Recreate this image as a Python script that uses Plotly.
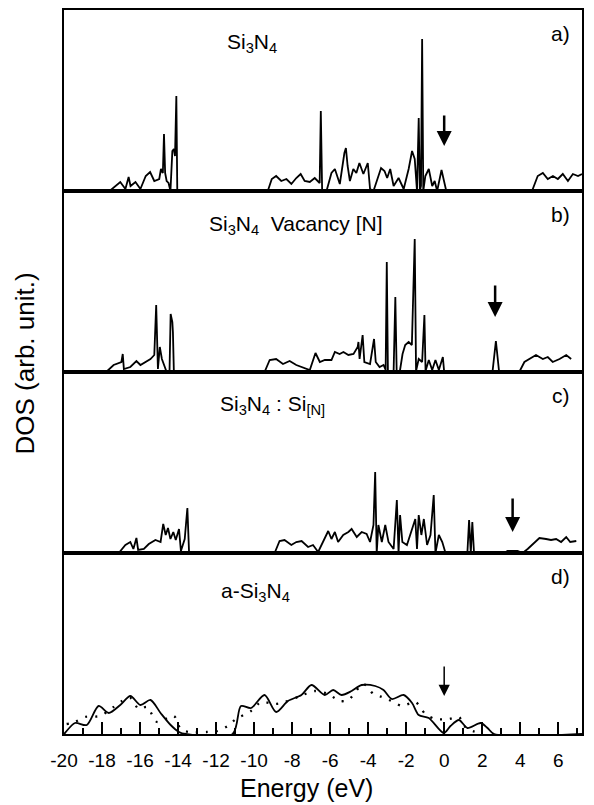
import plotly.graph_objects as go
from plotly.subplots import make_subplots

# ---------------- data (energy in eV, DOS in arbitrary units) ----------------
a_energy = [-20, -17.6, -17.04, -16.77, -16.6, -16.5, -16.24, -15.98, -15.7, -15.47,
            -15.25, -14.99, -14.9, -14.8, -14.74, -14.68, -14.6, -14.5, -14.4, -14.3,
            -14.22, -14.16, -14.09, -14.04, -9.28, -9.07, -8.84, -8.57, -8.3, -8.04,
            -7.78, -7.55, -7.34, -7.07, -6.81, -6.63, -6.55, -6.49, -6.42, -6.19,
            -5.93, -5.75, -5.49, -5.25, -5.17, -5.08, -4.96, -4.78, -4.62, -4.46,
            -4.25, -4.02, -3.90, -3.72, -3.54, -3.32, -3.14, -3.0, -2.84, -2.66,
            -2.40, -2.13, -1.87, -1.69, -1.55, -1.43, -1.34, -1.28, -1.22, -1.16,
            -1.10, -0.99, -0.81, -0.63, -0.5, -0.37, -0.14, 0.11, 4.62, 4.92,
            5.19, 5.45, 5.72, 5.98, 6.24, 6.51, 6.77, 7.04, 7.25]
a_dos = [0, 0, 9, 2, 14, 5, 9, 2, 15, 19,
         10, 12, 22, 18, 57, 18, 10, 8, 0, 40,
         42, 35, 95, 0, 0, 12, 15, 10, 12, 7,
         13, 17, 10, 9, 13, 10, 8, 80, 0, 0,
         18, 22, 7, 38, 43, 25, 10, 22, 18, 28,
         17, 28, 2, 0, 10, 23, 20, 13, 22, 5,
         13, 2, 22, 40, 32, 0, 73, 0, 5, 152,
         0, 15, 22, 5, 10, 0, 21, 0, 0, 15,
         18, 12, 15, 12, 17, 10, 17, 15, 17]

b_energy = [-20, -17.78, -17.39, -16.98, -16.91, -16.85, -16.51, -16.19, -15.98, -15.71,
            -15.45, -15.25, -15.15, -15.06, -14.96, -14.85, -14.6, -14.45, -14.39, -14.3,
            -14.27, -14.22, -9.45, -9.18, -8.84, -8.48, -8.13, -7.78, -7.07, -6.77,
            -6.54, -6.28, -5.93, -5.75, -5.5, -5.3, -5.04, -4.77, -4.55, -4.51,
            -4.45, -4.29, -4.2, -3.90, -3.69, -3.6, -3.4, -3.19, -3.08, -3.02,
            -2.96, -2.66, -2.57, -2.5, -2.33, -2.19, -2.05, -1.87, -1.7, -1.55,
            -1.48, -1.34, -1.16, -1.04, -0.98, -0.81, -0.63, -0.46, -0.28, -0.07,
            0.0, 2.54, 2.72, 2.89, 3.95, 4.22, 4.48, 4.83, 5.19, 5.45,
            5.71, 6.07, 6.42, 6.68]
b_dos = [0, 0, 7, 10, 18, 3, 5, 11, 7, 10,
         13, 17, 67, 3, 25, 13, 0, 0, 58, 50,
         40, 0, 0, 12, 13, 8, 11, 7, 2, 19,
         10, 12, 12, 20, 18, 20, 17, 18, 25, 30,
         13, 37, 10, 8, 33, 10, 5, 7, 2, 110,
         1, 1, 75, 1, 1, 18, 27, 30, 27, 133,
         1, 13, 10, 57, 1, 12, 2, 12, 2, 15,
         0, 0, 31, 0, 0, 10, 13, 17, 13, 15,
         10, 13, 17, 13]

c_energy = [-20, -17.12, -16.77, -16.51, -16.35, -16.19, -16.1, -15.8, -15.54, -15.19,
            -14.92, -14.78, -14.65, -14.53, -14.4, -14.25, -14.12, -13.95, -13.85, -13.65,
            -13.51, -13.42, -8.92, -8.66, -8.4, -8.04, -7.78, -7.5, -7.16, -6.9,
            -6.63, -6.37, -6.10, -5.93, -5.75, -5.58, -5.31, -5.04, -4.87, -4.60,
            -4.34, -4.08, -3.90, -3.72, -3.63, -3.55, -3.46, -3.28, -3.10, -2.93,
            -2.66, -2.49, -2.4, -2.32, -2.2, -1.96, -1.69, -1.52, -1.43, -1.34,
            -1.2, -1.07, -0.9, -0.72, -0.55, -0.46, -0.28, -0.1, 0.07, 1.22,
            1.31, 1.4, 1.48, 1.57, 3.16, 3.33, 3.86, 4.13, 4.39, 4.75,
            5.01, 5.36, 5.62, 5.89, 6.15, 6.42, 6.63, 6.95]
c_dos = [0, 0, 8, 11, 4, 15, 3, 4, 9, 13,
         11, 29, 18, 25, 14, 21, 13, 24, 2, 14,
         45, 0, 0, 12, 13, 8, 11, 12, 6, 8,
         1, 12, 22, 14, 21, 11, 18, 21, 24, 16,
         21, 19, 11, 28, 81, 0, 28, 11, 28, 11,
         4, 53, 0, 38, 11, 8, 24, 34, 4, 38,
         18, 34, 8, 18, 58, 0, 18, 11, 0, 0,
         33, 0, 31, 0, 0, 2, 2, 0, 4, 11,
         15, 14, 13, 14, 11, 16, 11, 12]

d_energy = [-20, -19.95, -19.42, -18.8, -18.18, -17.65, -17.04, -16.51, -15.98, -15.45,
            -14.92, -14.39, -13.95, -13.6, -11.13, -10.69, -10.16, -9.45, -8.84, -8.22,
            -7.51, -6.98, -6.28, -5.84, -5.40, -4.87, -4.34, -3.63, -3.19, -2.75,
            -2.13, -1.69, -1.34, -0.81, -0.02, 0.33, 0.78, 1.22, 1.92, 2.28,
            2.63, 7.25]
d_dos = [0, 1, 11, 9, 28, 21, 29, 38, 29, 34,
         21, 9, 2, 0, 0, 28, 26, 39, 22, 33,
         39, 49, 39, 44, 39, 43, 49, 48, 44, 35,
         39, 31, 19, 16, 1, 8, 14, 6, 11, 6,
         0, 0]

d2_energy = [-19.86, -19.42, -18.89, -18.1, -17.39, -16.95, -16.51, -16.07, -15.63, -15.1,
             -14.22, -13.86, -13.42, -12.5, -11.92, -11.39, -10.95, -10.16, -9.63, -8.92,
             -8.39, -7.69, -6.81, -6.10, -5.49, -5.04, -4.25, -3.72, -3.28, -2.66,
             -2.22, -1.52, -0.99, -0.46, 0.25, 0.78, 1.04, 1.5, 2.0]
d2_dos = [10, 12, 17, 18, 27, 33, 36, 25, 27, 12,
          18, 5, 2, 2, 3, 8, 15, 23, 32, 30,
          32, 37, 43, 40, 33, 34, 50, 40, 37, 32,
          28, 32, 20, 15, 15, 17, 8, 3, 1]

panel_titles = ["Si<sub>3</sub>N<sub>4</sub>",
                "Si<sub>3</sub>N<sub>4</sub>&nbsp;&nbsp;Vacancy [N]",
                "Si<sub>3</sub>N<sub>4</sub> : Si<sub>[N]</sub>",
                "a-Si<sub>3</sub>N<sub>4</sub>"]
panel_tags = ["a)", "b)", "c)", "d)"]
# arrow markers: (energy, tail DOS, tip DOS)
arrows = [(0.0, 77, 45), (2.68, 88, 55), (3.6, 56, 21), (0.0, 69, 38)]

tick_vals = [-20, -18, -16, -14, -12, -10, -8, -6, -4, -2, 0, 2, 4, 6]
tick_text = ["-20", "-18", "-16", "-14", "-12", "-10", "-8", "-6", "-4", "-2", "0", "2", "4", "6"]

# ---------------- figure ----------------
FONT = "Liberation Sans, Arial, Helvetica, sans-serif"
fig = make_subplots(rows=4, cols=1, shared_xaxes=True, vertical_spacing=0)

line = dict(color="black", width=1.8)
fig.add_trace(go.Scatter(x=a_energy, y=a_dos, mode="lines", line=line), row=1, col=1)
fig.add_trace(go.Scatter(x=b_energy, y=b_dos, mode="lines", line=line), row=2, col=1)
fig.add_trace(go.Scatter(x=c_energy, y=c_dos, mode="lines", line=line), row=3, col=1)
fig.add_trace(go.Scatter(x=d_energy, y=d_dos, mode="lines",
                         line=dict(color="black", width=1.8, shape="spline", smoothing=0.8)),
              row=4, col=1)
fig.add_trace(go.Scatter(x=d2_energy, y=d2_dos, mode="lines",
                         line=dict(color="black", width=2.3, dash="2px,8px",
                                   shape="spline", smoothing=0.8)),
              row=4, col=1)

label_y = [0.82, 0.81, 0.82, 0.785]
label_x = [0.311, 0.276, 0.297, 0.299]
for i in range(4):
    xr = "x" if i == 0 else f"x{i+1}"
    yr = "y" if i == 0 else f"y{i+1}"
    fig.add_annotation(xref=f"{xr} domain", yref=f"{yr} domain", x=label_x[i], y=label_y[i],
                       text=panel_titles[i], showarrow=False, xanchor="left", yanchor="middle",
                       font=dict(size=21, family=FONT, color="black"))
    fig.add_annotation(xref=f"{xr} domain", yref=f"{yr} domain", x=0.98, y=0.87,
                       text=panel_tags[i], showarrow=False, xanchor="right", yanchor="middle",
                       font=dict(size=21, family=FONT, color="black"))
    e, tail, tip = arrows[i]
    thin = (i == 3)
    fig.add_annotation(xref=xr, yref=yr, axref=xr, ayref=yr, x=e, y=tip, ax=e, ay=tail,
                       text="", showarrow=True, arrowhead=2,
                       arrowsize=1.5 if thin else 1.2, arrowwidth=1.5 if thin else 2.5,
                       arrowcolor="black")

for r in range(1, 5):
    fig.update_yaxes(range=[0, 181], showline=True, linecolor="black", linewidth=2, mirror=True,
                     showticklabels=False, ticks="", showgrid=False, zeroline=False,
                     automargin=False, row=r, col=1)
    fig.update_xaxes(range=[-20, 7.25], showline=True, linecolor="black", linewidth=2, mirror=True,
                     showgrid=False, zeroline=False, automargin=False, row=r, col=1)
for r in range(1, 4):
    fig.update_xaxes(ticks="", showticklabels=False, row=r, col=1)

fig.update_xaxes(row=4, col=1, ticks="inside", ticklen=12, tickwidth=2, tickcolor="black",
                 tickvals=tick_vals, ticktext=tick_text, showticklabels=True,
                 ticklabelstandoff=8,
                 tickfont=dict(size=19, family=FONT, color="black"),
                 minor=dict(ticks="inside", ticklen=6, tickwidth=2, tickcolor="black",
                            tick0=-19, dtick=2, showgrid=False))

fig.add_annotation(xref="paper", yref="paper", x=0.469, y=-0.075, text="Energy (eV)",
                   showarrow=False, xanchor="center", yanchor="middle",
                   font=dict(size=25, family=FONT, color="black"))
fig.add_annotation(xref="paper", yref="paper", x=-0.075, y=0.512, text="DOS (arb. unit.)",
                   showarrow=False, textangle=-90, xanchor="center", yanchor="middle",
                   font=dict(size=26, family=FONT, color="black"))

# page body adds an 8px offset, so margins are shifted to place the frame as in the reference
fig.update_layout(width=594, height=805, showlegend=False,
                  margin=dict(l=56, r=20, t=2, b=79, autoexpand=False),
                  plot_bgcolor="white", paper_bgcolor="white",
                  font=dict(family=FONT, color="black"))

fig.write_html("out.html")
